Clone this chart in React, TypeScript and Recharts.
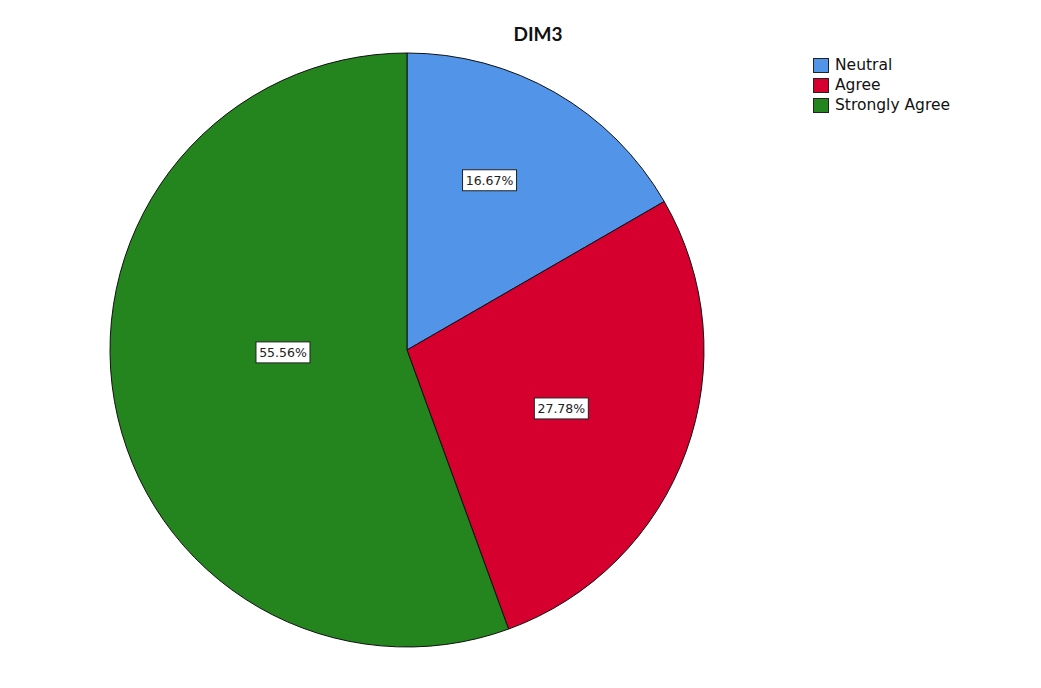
import { PieChart, Pie, Cell, Legend } from 'recharts';

const categories = ['Neutral', 'Agree', 'Strongly Agree'];
const counts = [3, 5, 10];
const COLORS = ['#5294E8', '#D5002E', '#24851E'];
// small pixel nudges so the boxes land where SPSS put them
const LABEL_NUDGE = [[-12, -6], [-9, -1], [-14, -17]];

const data = categories.map((name, i) => ({ name, value: counts[i] }));
const total = counts.reduce((a, b) => a + b, 0);

const RADIAN = Math.PI / 180;

// label sits near the sector's centroid
const renderLabel = (props: any) => {
  const { cx, cy, outerRadius, startAngle, endAngle, value, index } = props;
  const span = Math.abs(endAngle - startAngle) * RADIAN;
  const mid = ((startAngle + endAngle) / 2) * RADIAN;
  const d = (4 * outerRadius * Math.sin(span / 2)) / (3 * span);
  const [nx, ny] = LABEL_NUDGE[index] || [0, 0];
  const x = cx + d * Math.cos(mid) + nx;
  const y = cy - d * Math.sin(mid) + ny;
  const text = ((value / total) * 100).toFixed(2) + '%';
  const w = 54;
  const h = 21;
  return (
    <g>
      <rect x={x - w / 2} y={y - h / 2} width={w} height={h} fill="#fff" stroke="#222" strokeWidth={1} />
      <text x={x} y={y} dy="0.36em" textAnchor="middle" fontSize={12.5} fill="#222" fontFamily="DejaVu Sans, sans-serif">
        {text}
      </text>
    </g>
  );
};

const renderLegend = () => (
  <div style={{ fontFamily: '"DejaVu Sans", sans-serif', fontSize: 15.5, color: '#111' }}>
    {data.map((d, i) => (
      <div key={d.name} style={{ display: 'flex', alignItems: 'center', height: 20 }}>
        <span style={{ width: 16, height: 15, background: COLORS[i], border: '1px solid #222', boxSizing: 'border-box', marginRight: 6 }} />
        {d.name}
      </div>
    ))}
  </div>
);

export default function App() {
  return (
    <div style={{ position: 'absolute', left: 0, top: 0, width: 1041, height: 688, background: '#fff' }}>
      <div style={{ position: 'absolute', left: 438, width: 200, top: 22, textAlign: 'center', fontFamily: 'Lato, "Open Sans", sans-serif', fontWeight: 'bold', fontSize: 19, color: '#111' }}>
        DIM3
      </div>
      <PieChart width={1041} height={688} margin={{ top: 0, right: 0, bottom: 0, left: 0 }}>
        <Pie
          data={data}
          dataKey="value"
          nameKey="name"
          cx={407}
          cy={350}
          outerRadius={297}
          startAngle={90}
          endAngle={-270}
          stroke="#111"
          strokeWidth={1}
          label={renderLabel}
          labelLine={false}
          isAnimationActive={false}
        >
          {data.map((_e, i) => (
            <Cell key={`cell-${i}`} fill={COLORS[i]} />
          ))}
        </Pie>
        <Legend
          layout="vertical"
          verticalAlign="top"
          align="right"
          content={renderLegend}
          wrapperStyle={{ position: 'absolute', left: 813, top: 55, width: 200 }}
        />
      </PieChart>
    </div>
  );
}
